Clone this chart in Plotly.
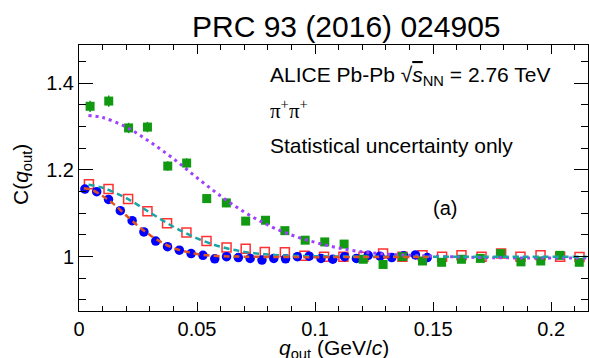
import plotly.graph_objects as go

# ---------------- data ----------------
green_q = [0.0047, 0.0126, 0.0210, 0.0290, 0.0376, 0.0456, 0.0541, 0.0624, 0.0706, 0.0790,
           0.0872, 0.0958, 0.1041, 0.1123, 0.1204, 0.1288, 0.1370, 0.1455, 0.1536, 0.1620,
           0.1700, 0.1786, 0.1872, 0.1956, 0.2037, 0.2119]
green_c = [1.347, 1.359, 1.297, 1.299, 1.209, 1.216, 1.134, 1.124, 1.082, 1.084,
           1.060, 1.038, 1.034, 1.029, 0.994, 0.982, 1.000, 0.990, 0.987, 0.994,
           0.996, 1.007, 0.988, 0.990, 1.003, 0.987]
green_err = [0.013, 0.013, 0.012, 0.012, 0.011, 0.011, 0.010, 0.010, 0.009, 0.009,
             0.008, 0.008, 0.008, 0.007, 0.007, 0.007, 0.006, 0.006, 0.006, 0.006,
             0.006, 0.006, 0.006, 0.006, 0.006, 0.006]

red_q = [0.0042, 0.0125, 0.0208, 0.0290, 0.0373, 0.0455, 0.0540, 0.0625, 0.0706, 0.0787,
         0.0872, 0.0955, 0.1038, 0.1120, 0.1205, 0.1288, 0.1370, 0.1455, 0.1538, 0.1620,
         0.1705, 0.1788, 0.1870, 0.1955, 0.2038, 0.2120]
red_c = [1.167, 1.156, 1.133, 1.105, 1.077, 1.056, 1.036, 1.021, 1.018, 1.011,
         1.010, 1.002, 1.000, 1.000, 1.000, 1.007, 1.000, 1.003, 1.000, 1.003,
         1.000, 1.007, 1.000, 1.003, 1.000, 0.999]

blue_q = [0.0025, 0.0075, 0.0125, 0.0175, 0.0225, 0.0275, 0.0325, 0.0375, 0.0425, 0.0475,
          0.0525, 0.0575, 0.0625, 0.0675, 0.0725, 0.0775, 0.0825, 0.0875, 0.0925, 0.0975,
          0.1025, 0.1075, 0.1125, 0.1175, 0.1225, 0.1275, 0.1325, 0.1375, 0.1425, 0.1475]
blue_c = [1.156, 1.150, 1.132, 1.106, 1.083, 1.057, 1.036, 1.023, 1.015, 1.007,
          1.003, 0.995, 1.000, 0.998, 0.996, 0.992, 0.996, 0.995, 1.000, 1.001,
          0.996, 0.994, 1.000, 0.996, 1.003, 1.001, 0.998, 1.002, 1.004, 0.998]

# fit curves
fit_green_q = [0.004, 0.010, 0.020, 0.030, 0.040, 0.050, 0.060, 0.070, 0.080, 0.090,
               0.100, 0.110, 0.120, 0.130, 0.140, 0.150, 0.170, 0.190, 0.215]
fit_green_c = [1.326, 1.321, 1.299, 1.265, 1.226, 1.182, 1.140, 1.103, 1.073, 1.050,
               1.033, 1.020, 1.011, 1.006, 1.003, 1.001, 0.998, 0.997, 0.997]

fit_red_q = [0.004, 0.010, 0.020, 0.030, 0.040, 0.050, 0.060, 0.070, 0.080, 0.090,
             0.100, 0.120, 0.150, 0.180, 0.215]
fit_red_c = [1.166, 1.159, 1.135, 1.102, 1.069, 1.042, 1.023, 1.011, 1.005, 1.002,
             1.001, 1.000, 1.000, 1.000, 1.000]

fit_blue_q = [0.002, 0.005, 0.010, 0.015, 0.020, 0.025, 0.030, 0.035, 0.040, 0.045,
              0.050, 0.060, 0.070, 0.090, 0.120, 0.148]
fit_blue_c = [1.158, 1.155, 1.140, 1.120, 1.095, 1.071, 1.050, 1.033, 1.020, 1.012,
              1.006, 1.001, 1.000, 0.999, 0.999, 0.999]

x_range = [0.0, 0.2156]
y_range = [0.8746, 1.4884]

title_text = "PRC 93 (2016) 024905"
label_lines = [
    "ALICE Pb-Pb √<span style='text-decoration:overline'><i>s</i></span><sub>NN</sub> = 2.76 TeV",
    "<span style='font-family:Liberation Serif'>π<sup>+</sup>π<sup>+</sup></span>",
    "Statistical uncertainty only",
]
panel_label = "(a)"

# ---------------- figure ----------------
FONT = "Liberation Sans, Arial, sans-serif"
fig = go.Figure()

fig.add_trace(go.Scatter(
    x=red_q, y=red_c, mode="markers",
    marker=dict(symbol="square-open", size=9, color="#ff3030", line=dict(width=1.5, color="#ff3030")),
    showlegend=False))
fig.add_trace(go.Scatter(
    x=blue_q, y=blue_c, mode="markers",
    marker=dict(symbol="circle", size=9.5, color="#0000ff"),
    showlegend=False))
fig.add_trace(go.Scatter(
    x=green_q, y=green_c, mode="markers",
    error_y=dict(type="data", array=green_err, color="#119911", thickness=1.5, width=0),
    marker=dict(symbol="square", size=9, color="#119911"),
    showlegend=False))

fig.add_trace(go.Scatter(
    x=fit_green_q, y=fit_green_c, mode="lines", line_shape="spline",
    line=dict(color="#a040ff", width=3, dash="3px,4px"), showlegend=False))
fig.add_trace(go.Scatter(
    x=fit_red_q, y=fit_red_c, mode="lines", line_shape="spline",
    line=dict(color="#1aa5a5", width=2.5, dash="6px,4px"), showlegend=False))
fig.add_trace(go.Scatter(
    x=fit_blue_q, y=fit_blue_c, mode="lines", line_shape="spline",
    line=dict(color="#e0541e", width=2.5, dash="6px,4px"), showlegend=False))

axis_common = dict(
    showgrid=False, zeroline=False, showline=True, linecolor="black", linewidth=1,
    ticks="inside", mirror="ticks", tickcolor="black", tickwidth=1,
    tickfont=dict(family=FONT, size=20, color="black"),
)
fig.update_xaxes(range=x_range, tick0=0, dtick=0.05, ticklen=9,
                 minor=dict(dtick=0.01, ticks="inside", ticklen=5, tickcolor="black"),
                 **axis_common)
fig.update_yaxes(range=y_range, tick0=1.0, dtick=0.2, ticklen=14,
                 minor=dict(dtick=0.05, ticks="inside", ticklen=7, tickcolor="black"),
                 **axis_common)

L, R, T, B = 79, 1, 45, 47
W, H = 589, 358
pw, ph = W - L - R, H - T - B

def px(xp):
    return (xp - L) / pw

def py(yp):
    return (H - B - yp) / ph

annots = [
    dict(text=title_text, x=px(346), y=py(27), font=dict(size=30)),
    dict(text=label_lines[0], x=px(268), y=py(76), xanchor="left", font=dict(size=21)),
    dict(text=label_lines[1], x=px(268), y=py(109), xanchor="left", font=dict(size=21)),
    dict(text=label_lines[2], x=px(268), y=py(145), xanchor="left", font=dict(size=21)),
    dict(text=panel_label, x=px(445), y=py(208), font=dict(size=20)),
    dict(text="<i>q</i><sub>out</sub> (GeV/<i>c</i>)", x=px(334), y=py(349), font=dict(size=21)),
    dict(text="C(<i>q</i><sub>out</sub>)", x=px(22), y=py(175), textangle=-90, font=dict(size=21)),
]
for a in annots:
    a.setdefault("xanchor", "center")
    a.setdefault("yanchor", "middle")
    a["xref"] = "paper"
    a["yref"] = "paper"
    a["showarrow"] = False
    a["font"] = dict(family=FONT, color="black", **a["font"])
    fig.add_annotation(**a)

fig.update_layout(
    width=W, height=H, margin=dict(l=L, r=R, t=T, b=B, autoexpand=False),
    paper_bgcolor="white", plot_bgcolor="white",
    font=dict(family=FONT, color="black"),
)

fig.write_html("out.html")
